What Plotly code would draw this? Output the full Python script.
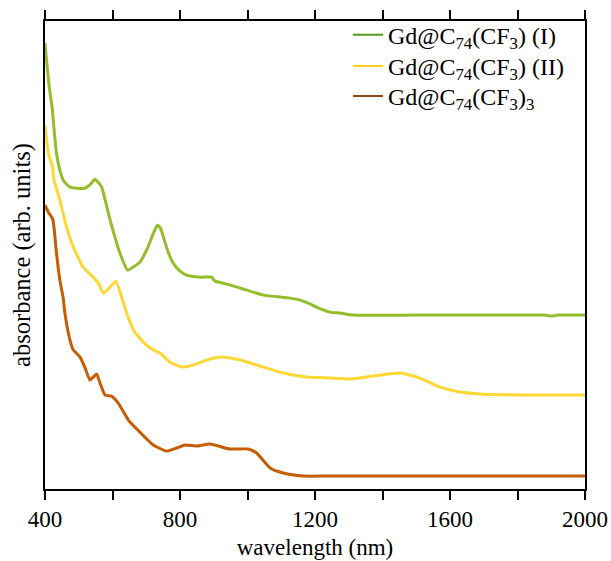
import plotly.graph_objects as go

# wavelength (nm) and absorbance (arb. units)
wl_I = [400, 412, 422, 425, 434, 444, 454, 474, 518, 535, 548, 560, 568, 593, 622, 645, 665, 681,
        705, 720, 733, 742, 751, 765, 780, 800, 820, 860, 894, 898, 904, 950, 998, 1047, 1126,
        1156, 1180, 1205, 1244, 1274, 1313, 1500, 1800, 1880, 1900, 1920, 2000]
abs_I = [4.46, 4.04, 3.79, 3.67, 3.36, 3.19, 3.09, 3.02, 3.01, 3.05, 3.10, 3.06, 3.02, 2.69, 2.36,
         2.19, 2.23, 2.27, 2.42, 2.55, 2.64, 2.61, 2.52, 2.37, 2.26, 2.18, 2.14, 2.12, 2.12, 2.10,
         2.08, 2.04, 1.99, 1.94, 1.91, 1.89, 1.86, 1.82, 1.77, 1.76, 1.74, 1.74, 1.74, 1.74, 1.73,
         1.74, 1.74]

wl_II = [400, 410, 418, 423, 425, 444, 464, 484, 513, 543, 558, 573, 593, 610, 627, 642, 662, 691,
         721, 741, 770, 805, 839, 879, 923, 978, 1047, 1106, 1175, 1244, 1304, 1373, 1452, 1511,
         1570, 1630, 1689, 1847, 2000]
abs_II = [3.64, 3.36, 3.27, 3.22, 3.12, 2.89, 2.62, 2.42, 2.22, 2.12, 2.06, 1.96, 2.02, 2.08, 1.92,
          1.76, 1.59, 1.47, 1.39, 1.36, 1.27, 1.22, 1.24, 1.29, 1.32, 1.29, 1.22, 1.16, 1.12, 1.11,
          1.10, 1.13, 1.16, 1.11, 1.02, 0.97, 0.95, 0.94, 0.94]

wl_III = [400, 410, 423, 434, 444, 454, 459, 474, 484, 504, 519, 533, 543, 553, 563, 578, 597, 617,
          647, 681, 721, 760, 790, 815, 849, 889, 948, 1002, 1027, 1067, 1106, 1165, 1244, 2000]
abs_III = [2.84, 2.77, 2.70, 2.36, 2.09, 1.91, 1.76, 1.49, 1.39, 1.32, 1.21, 1.09, 1.12, 1.15, 1.06,
           0.94, 0.93, 0.86, 0.69, 0.57, 0.44, 0.38, 0.41, 0.44, 0.43, 0.45, 0.40, 0.40, 0.36, 0.21,
           0.16, 0.13, 0.13, 0.13]

names = ["Gd@C<sub>74</sub>(CF<sub>3</sub>) (I)",
         "Gd@C<sub>74</sub>(CF<sub>3</sub>) (II)",
         "Gd@C<sub>74</sub>(CF<sub>3</sub>)<sub>3</sub>"]
curve_colors = ["#94bd2c", "#fdd835", "#c65d00"]
legend_colors = ["#559a1e", "#ffd21f", "#8b4a1a"]

tick_vals = [400, 600, 800, 1000, 1200, 1400, 1600, 1800, 2000]
tick_text = ["400", "", "800", "", "1200", "", "1600", "", "2000"]

FONT = "'Liberation Serif', 'Times New Roman', serif"

fig = go.Figure()
series = [(wl_I, abs_I), (wl_II, abs_II), (wl_III, abs_III)]
for (x, y), c in zip(series, curve_colors):
    fig.add_trace(go.Scatter(x=x, y=y, mode="lines", showlegend=False,
                             line=dict(color=c, width=3, shape="spline", smoothing=0.5)))
legend_ids = ["legend", "legend2", "legend3"]
for n, c, lid in zip(names, legend_colors, legend_ids):
    fig.add_trace(go.Scatter(x=[None], y=[None], mode="lines", name=n, legend=lid,
                             line=dict(color=c, width=2)))

leg_common = dict(x=0.5611, xanchor="left", yanchor="middle", bgcolor="rgba(0,0,0,0)",
                  font=dict(family=FONT, size=24, color="black"), itemwidth=30,
                  borderwidth=0)
legend_y = [0.970, 0.903, 0.839]

fig.update_layout(
    width=611, height=561,
    margin=dict(l=45, r=26, t=21, b=72),
    paper_bgcolor="white", plot_bgcolor="white",
    font=dict(family=FONT, size=23, color="black"),
    legend=dict(leg_common, y=legend_y[0]),
    legend2=dict(leg_common, y=legend_y[1]),
    legend3=dict(leg_common, y=legend_y[2]),
    xaxis=dict(range=[400, 2000], tickvals=tick_vals, ticktext=tick_text,
               showline=True, linecolor="black", linewidth=1.5, mirror="allticks",
               ticks="outside", ticklen=9, tickwidth=2, tickcolor="black",
               showgrid=False, zeroline=False, automargin=False,
               tickfont=dict(size=23),
               title=dict(text="wavelength (nm)", standoff=8, font=dict(size=23))),
    yaxis=dict(range=[0, 4.683], showticklabels=False, ticks="",
               showline=True, linecolor="black", linewidth=1.5, mirror=True,
               showgrid=False, zeroline=False, automargin=False,
               title=dict(text="absorbance (arb. units)", standoff=6, font=dict(size=24.5))),
)

fig.write_html("out.html", post_script="document.body.style.margin='0';",
               config={"displayModeBar": False})
